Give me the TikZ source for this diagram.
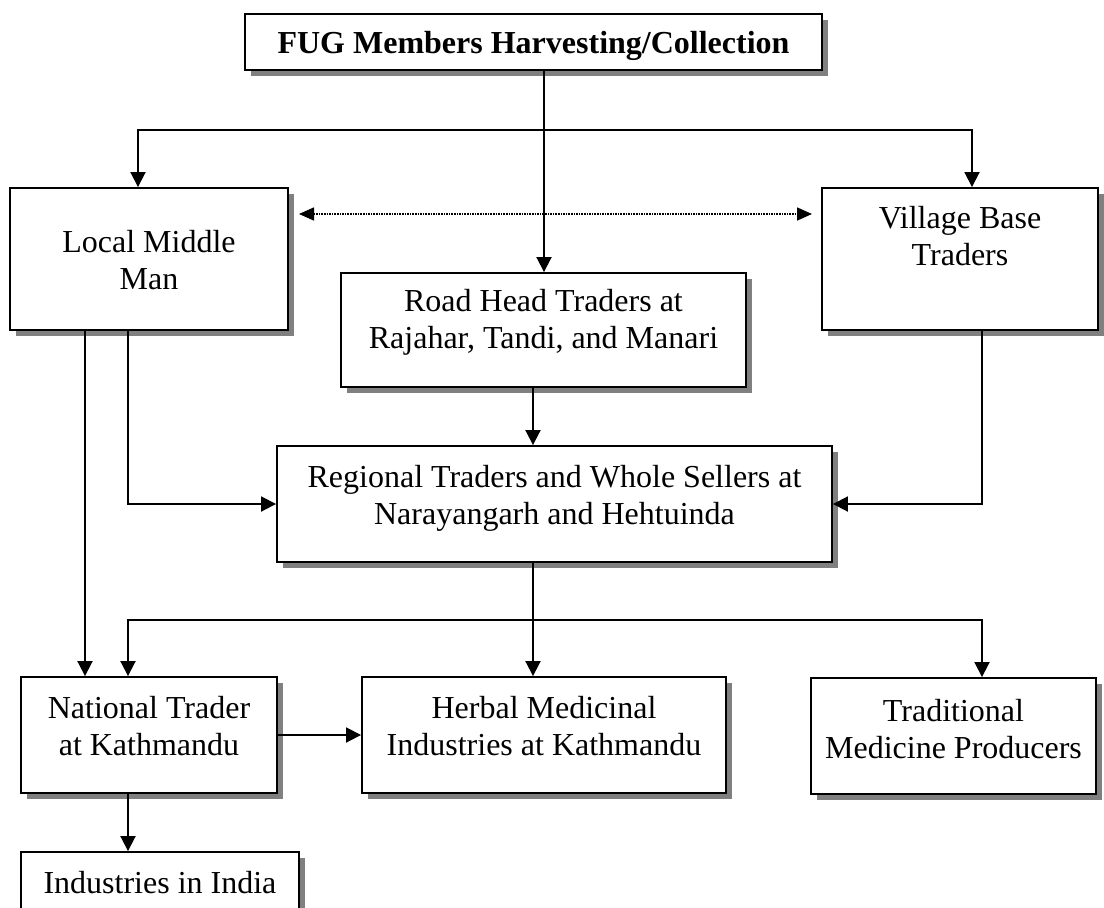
\documentclass[tikz,border=0pt]{standalone}
\usepackage{fontspec}
\setmainfont{Liberation Serif}
\usetikzlibrary{arrows.meta,shadows}

\begin{document}
\begin{tikzpicture}[x=1pt,y=-1pt,
  box/.style={draw, line width=1.9pt, fill=white, rectangle, inner sep=0pt,
    drop shadow={shadow xshift=6pt, shadow yshift=-6pt, fill=black!50, opacity=1}},
  boxtext/.style={font=\fontsize{32}{37.5}\selectfont, align=center, anchor=base, inner sep=0pt},
  arr/.style={line width=1.9pt, -{Triangle[length=15pt,width=15pt]}},
  dotarr/.style={line width=1.6pt, densely dotted,
    {Triangle[length=15pt,width=13pt]}-{Triangle[length=15pt,width=13pt]}},
]
% page frame
\useasboundingbox (0,0) rectangle (1104,908);
\fill[white] (0,0) rectangle (1104,908);
\clip (0,0) rectangle (1104,908);

% boxes
\node[box, minimum width=577pt, minimum height=56pt]  (fug)  at (533.5,42)  {};
\node[box, minimum width=278pt, minimum height=142pt] (lmm)  at (149,259)   {};
\node[box, minimum width=276pt, minimum height=142pt] (vbt)  at (960,259)   {};
\node[box, minimum width=405pt, minimum height=114pt] (rh)   at (543.5,330) {};
\node[box, minimum width=555pt, minimum height=116pt] (reg)  at (554.5,504) {};
\node[box, minimum width=256pt, minimum height=116pt] (nat)  at (149,735)   {};
\node[box, minimum width=364pt, minimum height=116pt] (herb) at (544,735)   {};
\node[box, minimum width=285pt, minimum height=116pt] (tmp)  at (953.5,736) {};
\node[box, minimum width=278pt, minimum height=68pt]  (ind)  at (160,886)   {};

% box texts (base anchor sits on the last line)
\node[boxtext, font=\fontsize{32}{37.5}\selectfont\bfseries] (fugt) at (533.5,53) {FUG Members Harvesting/Collection};
\node[boxtext] (lmmt)  at (149,289.5)   {Local Middle\\Man};
\node[boxtext] (vbtt)  at (960,265.5)   {Village Base\\Traders};
\node[boxtext] (rht)   at (543.5,348.5) {Road Head Traders at\\Rajahar, Tandi, and Manari};
\node[boxtext] (regt)  at (554.5,524.5) {Regional Traders and Whole Sellers at\\Narayangarh and Hehtuinda};
\node[boxtext] (natt)  at (149,755.5)   {National Trader\\at Kathmandu};
\node[boxtext] (herbt) at (544,755.5)   {Herbal Medicinal\\Industries at Kathmandu};
\node[boxtext] (tmpt)  at (953.5,758.5) {Traditional\\Medicine Producers};
\node[boxtext] (indt)  at (160,893)     {Industries in India};

% guide coordinates for connector lines
\coordinate (top)  at (544,130);
\coordinate (gL)   at (138,0);
\coordinate (gR)   at (972,0);
\coordinate (gMid) at (533,0);
\coordinate (g85)  at (85,0);
\coordinate (g128) at (128,0);
\coordinate (g982) at (982,0);
\coordinate (low)  at (533,620);
\coordinate (dotL) at (299,214);
\coordinate (dotR) at (812,214);

% connectors
\draw[arr] (fug.south -| top) -- (rh.north -| top);
\draw[arr] (top) -| (lmm.north -| gL);
\draw[arr] (top) -| (vbt.north -| gR);
\draw[dotarr] (dotL) -- (dotR);
\draw[arr] (rh.south -| gMid) -- (reg.north -| gMid);
\draw[arr] (lmm.south -| g128) |- (reg.west);
\draw[arr] (vbt.south -| g982) |- (reg.east);
\draw[arr] (lmm.south -| g85) -- (nat.north -| g85);
\draw[arr] (reg.south -| gMid) -- (herb.north -| gMid);
\draw[arr] (low) -| (nat.north -| g128);
\draw[arr] (low) -| (tmp.north -| g982);
\draw[arr] (nat.east) -- (herb.west);
\draw[arr] (nat.south -| g128) -- (ind.north -| g128);
\end{tikzpicture}
\end{document}
